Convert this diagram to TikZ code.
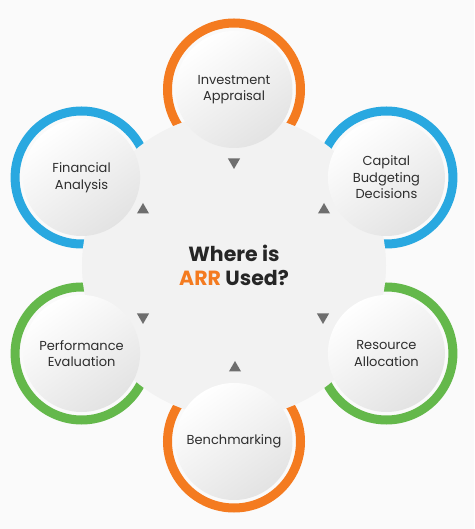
\documentclass[tikz,border=0pt]{standalone}
\usepackage{fontspec}
\setmainfont{Poppins}
\usepackage{xcolor}
\usepackage{tikz}
\usetikzlibrary{shapes.geometric}
\definecolor{arrorange}{HTML}{F47B20}
\definecolor{arrblue}{HTML}{29A8E0}
\definecolor{arrgreen}{HTML}{64B84B}
\definecolor{hubgray}{HTML}{F2F2F2}
\definecolor{bggray}{HTML}{FAFAFA}
\definecolor{txtgray}{HTML}{2E2E2E}
\definecolor{tipgray}{HTML}{6E6E6E}

\begin{document}
\begin{tikzpicture}[x=1pt,y=1pt,font=\fontsize{13}{16.5}\selectfont,text=txtgray]
	\tikzstyle{ring}=[circle,draw,line width=9pt,minimum size=133pt,inner sep=0pt]
	\tikzstyle{item}=[circle,minimum size=117pt,inner sep=0pt,align=center,
		top color=white,bottom color=black!11,shading angle=35]
	\tikzstyle{tip}=[regular polygon,regular polygon sides=3,fill=tipgray,
		minimum size=14pt,inner sep=0pt]
	\tikzstyle{tipdown}=[tip,shape border rotate=180]
	
	\fill[bggray] (-234,-263.5) rectangle (240,265.5);
	
	\node[ring,draw=arrorange] (r1) at (90:176)  {};
	\node[ring,draw=arrblue]   (r2) at (30:176)  {};
	\node[ring,draw=arrgreen]  (r3) at (-30:176) {};
	\node[ring,draw=arrorange] (r4) at (-90:176) {};
	\node[ring,draw=arrgreen]  (r5) at (210:176) {};
	\node[ring,draw=arrblue]   (r6) at (150:176) {};
	
	\node[circle,fill=hubgray,minimum size=304pt] (hub) at (0,0) {};
	
	\node[item] (ia) at (r1) {Investment\\Appraisal};
	\node[item] (cb) at (r2) {Capital\\Budgeting\\Decisions};
	\node[item] (ra) at (r3) {Resource\\Allocation};
	\node[item] (bm) at (r4) {Benchmarking};
	\node[item] (pe) at (r5) {Performance\\Evaluation};
	\node[item] (fa) at (r6) {Financial\\Analysis};
	
	\node[font=\fontsize{20.5}{24}\selectfont\bfseries,text=black!85,align=center] (q) at (hub)
		{Where is\\\textcolor{arrorange}{ARR} Used?};
	
	\node[tipdown] (t1) at (0,103.5)    {};
	\node[tip]     (t2) at (90,55.5)    {};
	\node[tipdown] (t3) at (89,-51.5)   {};
	\node[tip]     (t4) at (1,-102.5)   {};
	\node[tipdown] (t5) at (-91,-51.5)  {};
	\node[tip]     (t6) at (-91,55.5)   {};
\end{tikzpicture}
\end{document}
